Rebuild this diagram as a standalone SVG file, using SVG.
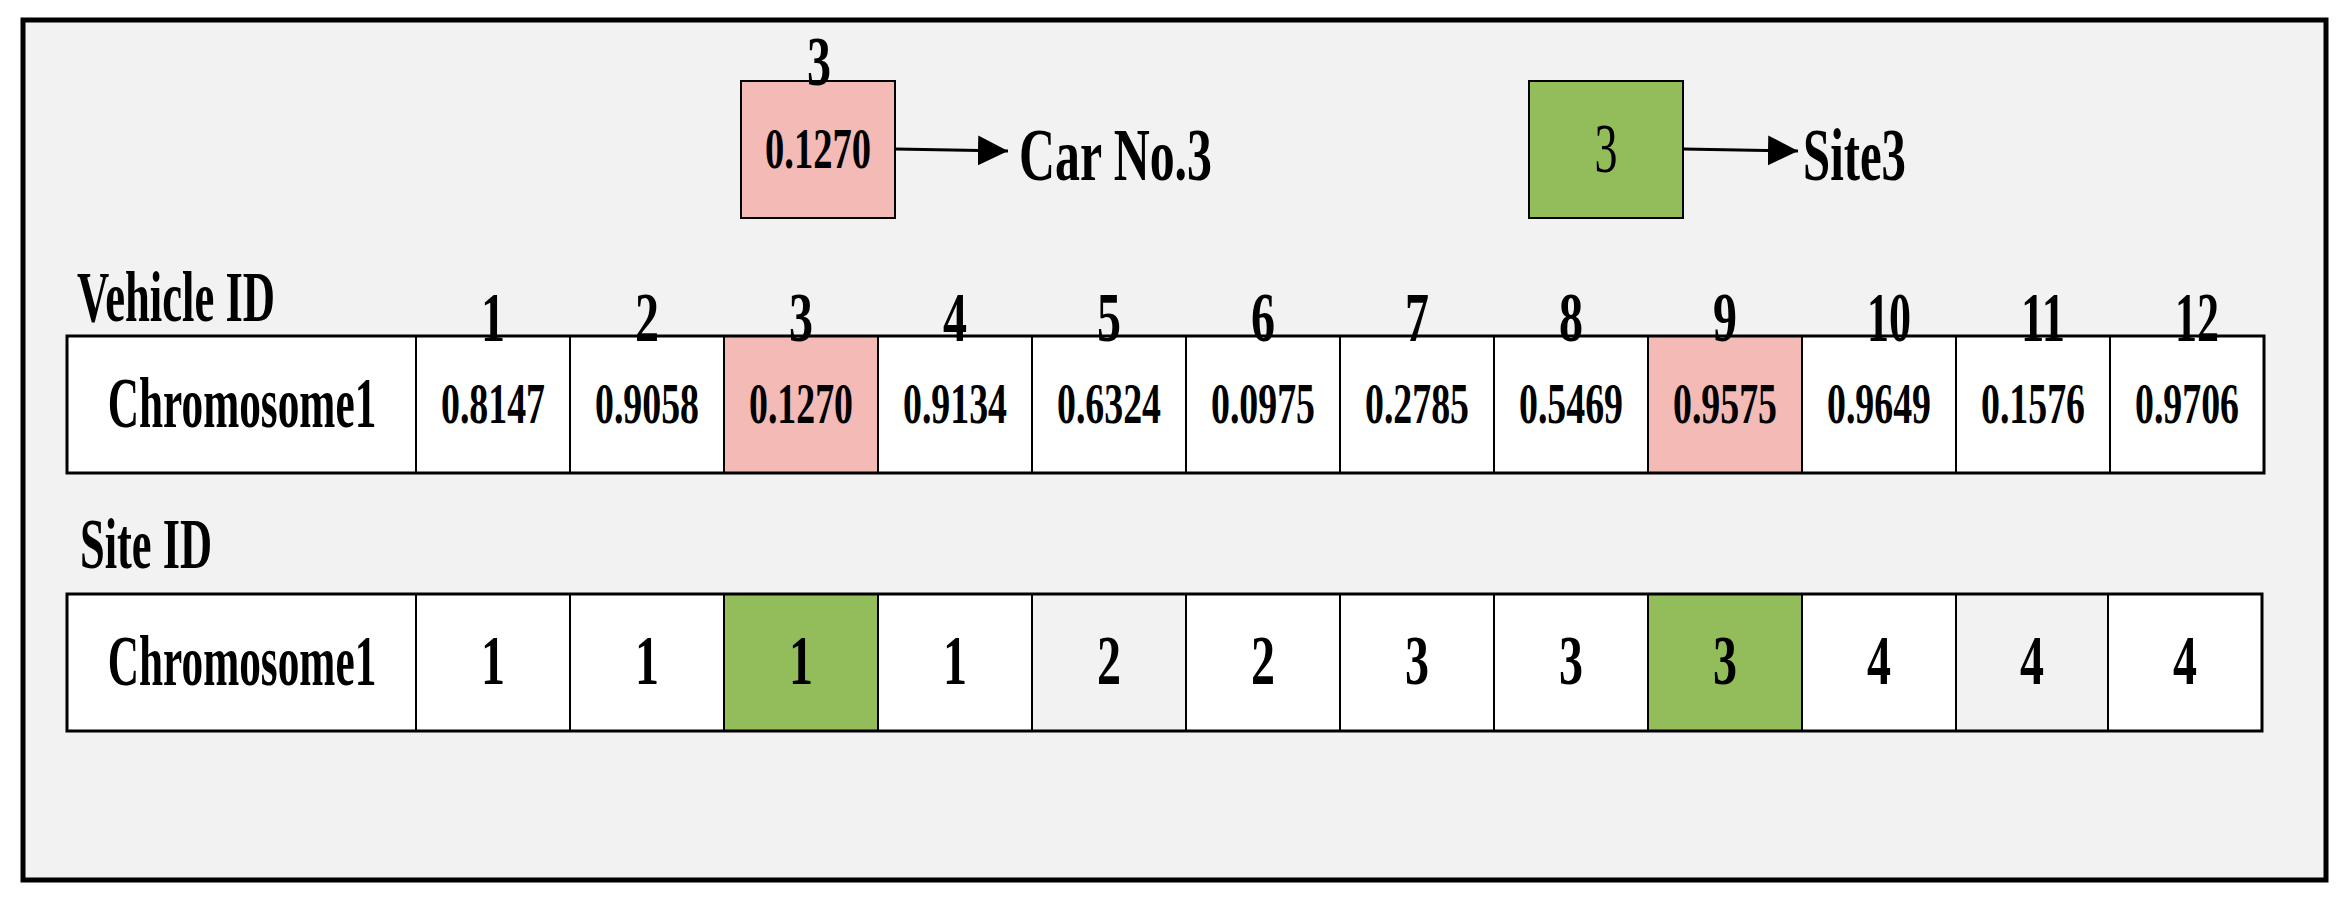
<svg xmlns="http://www.w3.org/2000/svg" width="2352" height="908" viewBox="0 0 2352 908">
<defs>
<style>
text{font-family:"Liberation Serif","Times New Roman",serif;fill:#000;font-weight:bold}
.cell{stroke:#000;stroke-width:2}
.w{fill:#fff}
.pk{fill:#f4bab6}
.gr{fill:#93bd5b}
.gy{fill:#f2f2f2}
.row{fill:none;stroke:#000;stroke-width:3}
.val{font-size:56px;text-anchor:middle}
.num{font-size:70px;text-anchor:middle}
.lbl{font-size:71px}
.thin{font-weight:normal}
.conn{stroke:#000;stroke-width:3;fill:none}
</style>
<marker id="ah" markerUnits="userSpaceOnUse" markerWidth="32" markerHeight="32" refX="30" refY="15" orient="auto">
<path d="M0,0 L30,15 L0,30 Z" fill="#000"/>
</marker>
</defs>
<rect x="0" y="0" width="2352" height="908" fill="#fff"/>
<rect id="frame" x="23" y="20" width="2303" height="860" fill="#f2f2f2" stroke="#000" stroke-width="5"/>

<g id="legend-vehicle">
<rect class="cell pk" x="741" y="81" width="154" height="137"/>
<text class="num" x="819" y="85" textLength="24" lengthAdjust="spacingAndGlyphs">3</text>
<text class="val" x="818" y="168" textLength="106" lengthAdjust="spacingAndGlyphs">0.1270</text>
</g>
<g id="label-car">
<text x="1019" y="180" font-size="74" textLength="193" lengthAdjust="spacingAndGlyphs">Car No.3</text>
</g>
<g id="legend-site">
<rect class="cell gr" x="1529" y="81" width="154" height="137"/>
<text class="num thin" x="1606" y="172" font-size="68" textLength="23" lengthAdjust="spacingAndGlyphs">3</text>
</g>
<g id="label-site">
<text x="1803" y="180" font-size="74" textLength="103" lengthAdjust="spacingAndGlyphs">Site3</text>
</g>

<g id="connectors">
<line class="conn" x1="895" y1="149" x2="1008" y2="151" marker-end="url(#ah)"/>
<line class="conn" x1="1683" y1="149" x2="1798" y2="151" marker-end="url(#ah)"/>
</g>

<g id="vehicle-label">
<text class="lbl" x="77" y="321" textLength="198" lengthAdjust="spacingAndGlyphs">Vehicle ID</text>
</g>

<g id="vehicle-row">
<rect class="cell w" x="67" y="336" width="349" height="137"/>
<text class="lbl" transform="translate(242,427) scale(0.61,1)" text-anchor="middle">Chromosome1</text>
<rect class="cell w" x="416" y="336" width="154" height="137"/>
<rect class="cell w" x="570" y="336" width="154" height="137"/>
<rect class="cell pk" x="724" y="336" width="154" height="137"/>
<rect class="cell w" x="878" y="336" width="154" height="137"/>
<rect class="cell w" x="1032" y="336" width="154" height="137"/>
<rect class="cell w" x="1186" y="336" width="154" height="137"/>
<rect class="cell w" x="1340" y="336" width="154" height="137"/>
<rect class="cell w" x="1494" y="336" width="154" height="137"/>
<rect class="cell pk" x="1648" y="336" width="154" height="137"/>
<rect class="cell w" x="1802" y="336" width="154" height="137"/>
<rect class="cell w" x="1956" y="336" width="154" height="137"/>
<rect class="cell w" x="2110" y="336" width="154" height="137"/>
<rect class="row" x="67" y="336" width="2197" height="137"/>
<text class="val" x="493" y="423" textLength="104" lengthAdjust="spacingAndGlyphs">0.8147</text>
<text class="val" x="647" y="423" textLength="104" lengthAdjust="spacingAndGlyphs">0.9058</text>
<text class="val" x="801" y="423" textLength="104" lengthAdjust="spacingAndGlyphs">0.1270</text>
<text class="val" x="955" y="423" textLength="104" lengthAdjust="spacingAndGlyphs">0.9134</text>
<text class="val" x="1109" y="423" textLength="104" lengthAdjust="spacingAndGlyphs">0.6324</text>
<text class="val" x="1263" y="423" textLength="104" lengthAdjust="spacingAndGlyphs">0.0975</text>
<text class="val" x="1417" y="423" textLength="104" lengthAdjust="spacingAndGlyphs">0.2785</text>
<text class="val" x="1571" y="423" textLength="104" lengthAdjust="spacingAndGlyphs">0.5469</text>
<text class="val" x="1725" y="423" textLength="104" lengthAdjust="spacingAndGlyphs">0.9575</text>
<text class="val" x="1879" y="423" textLength="104" lengthAdjust="spacingAndGlyphs">0.9649</text>
<text class="val" x="2033" y="423" textLength="104" lengthAdjust="spacingAndGlyphs">0.1576</text>
<text class="val" x="2187" y="423" textLength="104" lengthAdjust="spacingAndGlyphs">0.9706</text>
</g>

<g id="vehicle-index">
<text class="num" x="493" y="341" textLength="24" lengthAdjust="spacingAndGlyphs">1</text>
<text class="num" x="647" y="341" textLength="24" lengthAdjust="spacingAndGlyphs">2</text>
<text class="num" x="801" y="341" textLength="24" lengthAdjust="spacingAndGlyphs">3</text>
<text class="num" x="955" y="341" textLength="24" lengthAdjust="spacingAndGlyphs">4</text>
<text class="num" x="1109" y="341" textLength="24" lengthAdjust="spacingAndGlyphs">5</text>
<text class="num" x="1263" y="341" textLength="24" lengthAdjust="spacingAndGlyphs">6</text>
<text class="num" x="1417" y="341" textLength="24" lengthAdjust="spacingAndGlyphs">7</text>
<text class="num" x="1571" y="341" textLength="24" lengthAdjust="spacingAndGlyphs">8</text>
<text class="num" x="1725" y="341" textLength="24" lengthAdjust="spacingAndGlyphs">9</text>
<text class="num" x="1889" y="341" textLength="44" lengthAdjust="spacingAndGlyphs">10</text>
<text class="num" x="2043" y="341" textLength="44" lengthAdjust="spacingAndGlyphs">11</text>
<text class="num" x="2197" y="341" textLength="44" lengthAdjust="spacingAndGlyphs">12</text>
</g>

<g id="site-label">
<text class="lbl" x="80" y="568" textLength="132" lengthAdjust="spacingAndGlyphs">Site ID</text>
</g>

<g id="site-row">
<rect class="cell w" x="67" y="594" width="349" height="137"/>
<text class="lbl" transform="translate(242,685) scale(0.61,1)" text-anchor="middle">Chromosome1</text>
<rect class="cell w" x="416" y="594" width="154" height="137"/>
<rect class="cell w" x="570" y="594" width="154" height="137"/>
<rect class="cell gr" x="724" y="594" width="154" height="137"/>
<rect class="cell w" x="878" y="594" width="154" height="137"/>
<rect class="cell gy" x="1032" y="594" width="154" height="137"/>
<rect class="cell w" x="1186" y="594" width="154" height="137"/>
<rect class="cell w" x="1340" y="594" width="154" height="137"/>
<rect class="cell w" x="1494" y="594" width="154" height="137"/>
<rect class="cell gr" x="1648" y="594" width="154" height="137"/>
<rect class="cell w" x="1802" y="594" width="154" height="137"/>
<rect class="cell gy" x="1956" y="594" width="152" height="137"/>
<rect class="cell w" x="2108" y="594" width="154" height="137"/>
<rect class="row" x="67" y="594" width="2195" height="137"/>
<text class="num" x="493" y="684" textLength="24" lengthAdjust="spacingAndGlyphs">1</text>
<text class="num" x="647" y="684" textLength="24" lengthAdjust="spacingAndGlyphs">1</text>
<text class="num" x="801" y="684" textLength="24" lengthAdjust="spacingAndGlyphs">1</text>
<text class="num" x="955" y="684" textLength="24" lengthAdjust="spacingAndGlyphs">1</text>
<text class="num" x="1109" y="684" textLength="24" lengthAdjust="spacingAndGlyphs">2</text>
<text class="num" x="1263" y="684" textLength="24" lengthAdjust="spacingAndGlyphs">2</text>
<text class="num" x="1417" y="684" textLength="24" lengthAdjust="spacingAndGlyphs">3</text>
<text class="num" x="1571" y="684" textLength="24" lengthAdjust="spacingAndGlyphs">3</text>
<text class="num" x="1725" y="684" textLength="24" lengthAdjust="spacingAndGlyphs">3</text>
<text class="num" x="1879" y="684" textLength="24" lengthAdjust="spacingAndGlyphs">4</text>
<text class="num" x="2032" y="684" textLength="24" lengthAdjust="spacingAndGlyphs">4</text>
<text class="num" x="2185" y="684" textLength="24" lengthAdjust="spacingAndGlyphs">4</text>
</g>
</svg>
